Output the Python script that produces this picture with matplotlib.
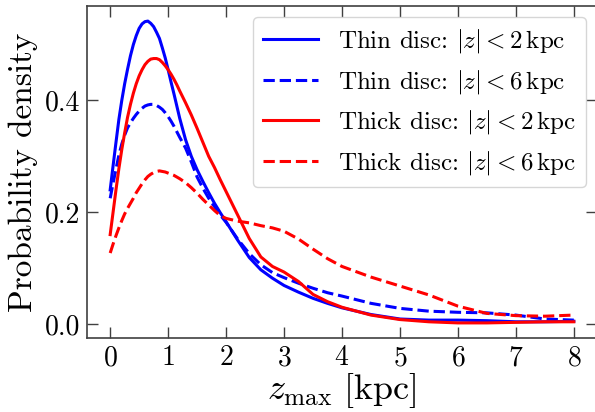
#!/usr/bin/env python3
"""z_max probability density for thin/thick disc samples."""

import numpy as np
import matplotlib
matplotlib.use("Agg")
import matplotlib.pyplot as plt

plt.rcParams["font.family"] = "serif"
plt.rcParams["font.serif"] = ["cmr10"]
plt.rcParams["mathtext.fontset"] = "cm"
plt.rcParams["axes.unicode_minus"] = False
plt.rcParams["axes.formatter.use_mathtext"] = True

# sample points along z_max [kpc]
zmax = [0.0, 0.05, 0.1, 0.15, 0.2, 0.25, 0.3, 0.35, 0.4, 0.45, 0.5, 0.55, 0.6,
        0.65, 0.7, 0.75, 0.8, 0.85, 0.9, 0.95, 1.0, 1.05, 1.1, 1.15, 1.2,
        1.3, 1.4, 1.5, 1.6, 1.7, 1.8, 1.9, 2.0,
        2.2, 2.4, 2.6, 2.8, 3.0, 3.25, 3.5, 3.75, 4.0, 4.5, 5.0, 5.5, 6.0,
        6.5, 7.0, 7.5, 8.0]

thin_2 = [0.240, 0.283, 0.325, 0.366, 0.400, 0.430, 0.456, 0.480, 0.500, 0.516,
          0.529, 0.537, 0.541, 0.542, 0.538, 0.532, 0.522, 0.511, 0.494, 0.476,
          0.455, 0.433, 0.412, 0.390, 0.368,
          0.330, 0.300, 0.276, 0.255, 0.235, 0.216, 0.199, 0.183,
          0.150, 0.119, 0.097, 0.082, 0.069, 0.057, 0.046, 0.037, 0.029, 0.017,
          0.009, 0.007, 0.007, 0.006, 0.004, 0.004, 0.005]

thin_6 = [0.225, 0.252, 0.277, 0.302, 0.322, 0.338, 0.351, 0.360, 0.368, 0.375,
          0.381, 0.386, 0.390, 0.392, 0.393, 0.393, 0.391, 0.388, 0.384, 0.378,
          0.371, 0.363, 0.354, 0.344, 0.334,
          0.315, 0.290, 0.263, 0.243, 0.225, 0.210, 0.195, 0.182,
          0.152, 0.126, 0.106, 0.092, 0.083, 0.073, 0.064, 0.056, 0.050, 0.037,
          0.028, 0.023, 0.021, 0.020, 0.016, 0.009, 0.007]

thick_2 = [0.160, 0.200, 0.240, 0.278, 0.312, 0.342, 0.370, 0.393, 0.413, 0.430,
           0.444, 0.455, 0.464, 0.470, 0.474, 0.475, 0.475, 0.473, 0.468, 0.462,
           0.455, 0.447, 0.438, 0.428, 0.417,
           0.396, 0.374, 0.350, 0.325, 0.300, 0.280, 0.258, 0.237,
           0.195, 0.153, 0.120, 0.103, 0.093, 0.076, 0.053, 0.040, 0.030, 0.016,
           0.008, 0.004, 0.002, 0.002, 0.003, 0.004, 0.004]

thick_6 = [0.127, 0.143, 0.158, 0.172, 0.185, 0.197, 0.207, 0.216, 0.225, 0.235,
           0.243, 0.251, 0.258, 0.264, 0.268, 0.271, 0.273, 0.274, 0.273, 0.272,
           0.270, 0.268, 0.266, 0.263, 0.260,
           0.253, 0.244, 0.234, 0.223, 0.213, 0.203, 0.194, 0.189,
           0.184, 0.181, 0.176, 0.172, 0.166, 0.152, 0.134, 0.117, 0.103, 0.084,
           0.068, 0.052, 0.032, 0.019, 0.015, 0.014, 0.016]

labels = [r"Thin disc: $|z|<2\,\mathrm{kpc}$",
          r"Thin disc: $|z|<6\,\mathrm{kpc}$",
          r"Thick disc: $|z|<2\,\mathrm{kpc}$",
          r"Thick disc: $|z|<6\,\mathrm{kpc}$"]

fig = plt.figure(figsize=(5.95, 4.12), dpi=100)
ax = fig.add_axes([87 / 595, 1 - 338 / 412, 510 / 595, 332 / 412])

ax.plot(zmax, thin_2, color="blue", lw=2.2, ls="-", label=labels[0])
ax.plot(zmax, thin_6, color="blue", lw=2.2, ls="--", label=labels[1])
ax.plot(zmax, thick_2, color="red", lw=2.2, ls="-", label=labels[2])
ax.plot(zmax, thick_6, color="red", lw=2.2, ls="--", label=labels[3])

ax.set_xticks(range(0, 9))
ax.set_yticks([0.0, 0.2, 0.4])
ax.set_yticklabels(["0.0", "0.2", "0.4"])
ax.tick_params(direction="in", top=True, right=True, length=8, width=1,
               color="0.25", labelsize=20, pad=5)
for s in ax.spines.values():
    s.set_color("0.25")
    s.set_linewidth(1.2)

ax.set_xlabel(r"$z_{\mathrm{max}}\ [\mathrm{kpc}]$", fontsize=26, labelpad=0)
ax.set_ylabel("Probability density", fontsize=24, labelpad=5)

ax.legend(loc="upper right", fontsize=18, handlelength=2.2, handletextpad=0.8,
          borderaxespad=0.45, edgecolor="0.8")

fig.savefig("out.png", dpi=100)
